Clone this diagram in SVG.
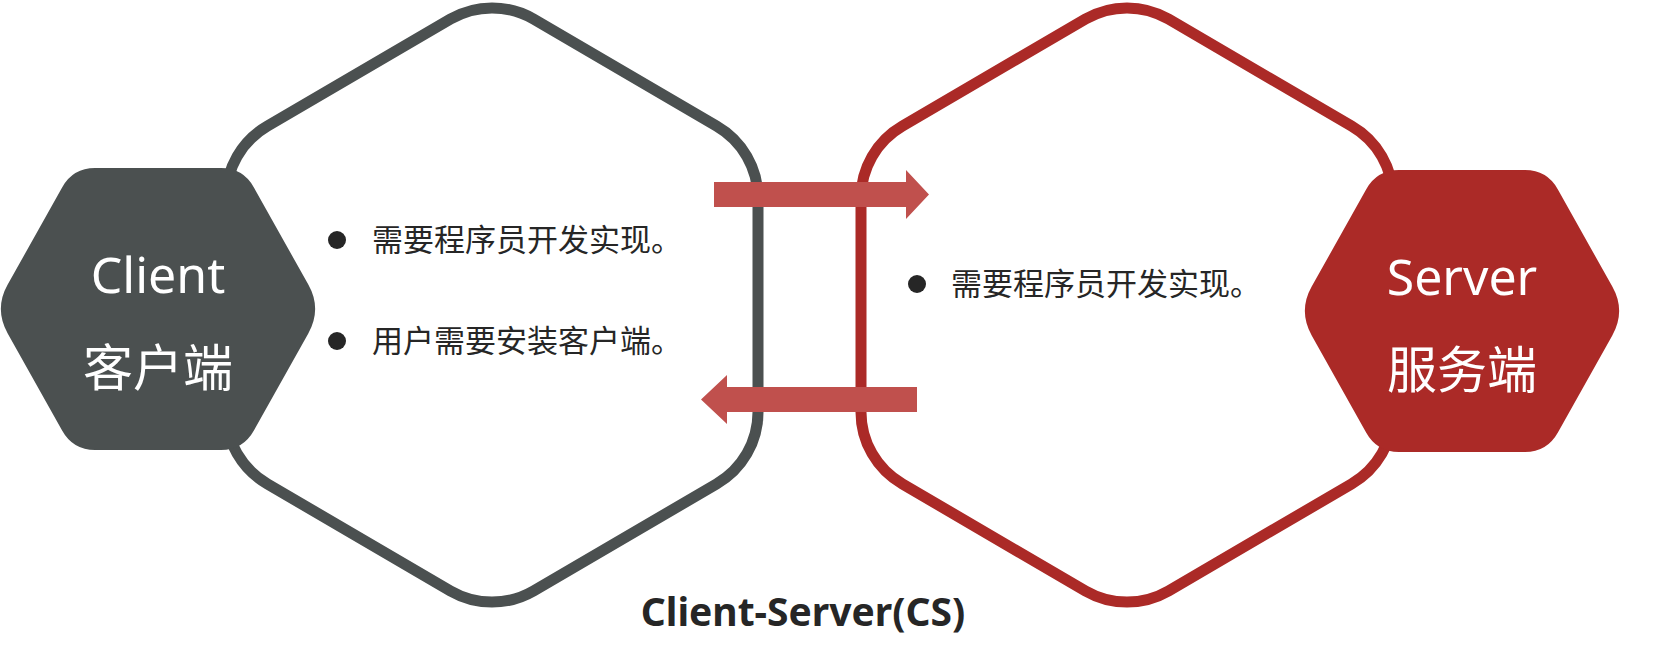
<svg xmlns="http://www.w3.org/2000/svg" width="1662" height="655" viewBox="0 0 1662 655">
  <style>
    .big { fill: #ffffff; stroke-width: 11; stroke-linejoin: round; }
    .gray { stroke: #4b5050; }
    .red { stroke: #ab2a27; }
    .arrow { fill: #c0504d; }
    .bul { fill: #262626; }
    .item { font-family: "Noto Sans CJK SC", "Noto Sans", sans-serif; font-size: 31px; fill: #262626; }
    .lat { font-family: "Noto Sans", "Noto Sans CJK SC", sans-serif; font-size: 50px; fill: #ffffff; text-anchor: middle; }
    .cjk { font-family: "Noto Sans CJK SC", sans-serif; font-size: 50px; fill: #ffffff; text-anchor: middle; }
    .title { font-family: "Noto Sans", "Liberation Sans", sans-serif; font-size: 39px; font-weight: bold; fill: #262626; text-anchor: middle; }
  </style>
  <defs>
    <path id="smallhex" d="M 7.7 284.6 L 62.25 187.2 Q 73 168 95 168 L 221 168 Q 243 168 253.75 187.2 L 308.3 284.6 Q 322 309 308.3 333.4 L 253.75 430.8 Q 243 450 221 450 L 95 450 Q 73 450 62.25 430.8 L 7.7 333.4 Q -6 309 7.7 284.6 Z"/>
  </defs>

  <g id="client-area">
    <path class="big gray" d="M 450.5 19 A 83 83 0 0 1 533.5 19 L 716.5 126 A 83 83 0 0 1 758 198 L 758 412 A 83 83 0 0 1 716.5 484 L 533.5 591 A 83 83 0 0 1 450.5 591 L 267.5 484 A 83 83 0 0 1 226 412 L 226 198 A 83 83 0 0 1 267.5 126 Z"/>
    <circle class="bul" cx="337" cy="240" r="9"/>
    <text class="item" x="372" y="251">需要程序员开发实现。</text>
    <circle class="bul" cx="337" cy="341" r="9"/>
    <text class="item" x="372" y="352">用户需要安装客户端。</text>
  </g>

  <g id="server-area">
    <path class="big red" d="M 1085.5 19 A 83 83 0 0 1 1168.5 19 L 1351.5 126 A 83 83 0 0 1 1393 198 L 1393 412 A 83 83 0 0 1 1351.5 484 L 1168.5 591 A 83 83 0 0 1 1085.5 591 L 902.5 484 A 83 83 0 0 1 861 412 L 861 198 A 83 83 0 0 1 902.5 126 Z"/>
    <circle class="bul" cx="917" cy="284" r="9"/>
    <text class="item" x="951" y="295">需要程序员开发实现。</text>
  </g>

  <g id="connectors">
    <polygon class="arrow" points="714,182 906,182 906,170 929,194.5 906,219 906,207 714,207"/>
    <polygon class="arrow" points="917,387 727,387 727,375 701,399.5 727,424 727,412 917,412"/>
  </g>

  <g id="client">
    <use href="#smallhex" fill="#4b5050"/>
    <text class="lat" x="158" y="293">Client</text>
    <text class="cjk" x="158" y="386">客户端</text>
  </g>

  <g id="server">
    <use href="#smallhex" fill="#ab2a27" transform="translate(1304,2)"/>
    <text class="lat" x="1462" y="295">Server</text>
    <text class="cjk" x="1462" y="388">服务端</text>
  </g>

  <g id="caption">
    <text class="title" x="803" y="626">Client-Server(CS)</text>
  </g>
</svg>
